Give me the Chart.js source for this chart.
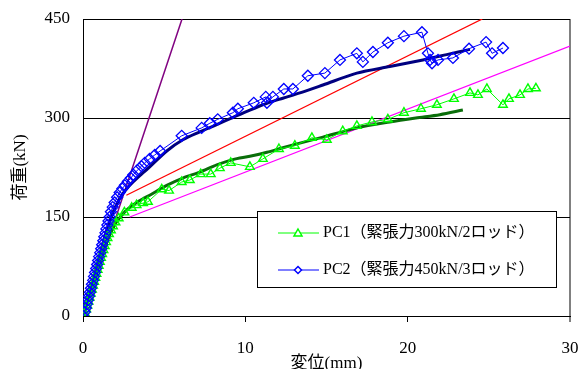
<!DOCTYPE html>
<html>
<head>
<meta charset="utf-8">
<script src="https://cdn.jsdelivr.net/npm/chart.js@4.4.1/dist/chart.umd.min.js"></script>
<style>
  html,body{margin:0;padding:0;background:#fff}
  #wrap{width:579px;height:369px}
</style>
</head>
<body>
<div id="wrap"><canvas id="chart" width="579" height="369"></canvas></div>
<script>
// --- data (displacement mm / load kN) ---
const xTicks = [0, 10, 20, 30];
const yTicks = [0, 150, 300, 450];

// PC1 test (tension 300kN / 2 rods)
const pc1X = [0,0.12,0.2,0.27,0.34,0.41,0.48,0.55,0.62,0.69,0.76,0.83,0.9,0.97,1.04,1.11,1.18,1.26,1.34,1.42,1.51,1.6,1.72,1.85,2.0,2.2,2.55,3.0,3.3,3.7,4.0,4.85,5.3,6.08,6.58,7.25,7.87,8.43,9.1,10.28,11.08,12.07,13.05,14.1,15.02,16.0,16.87,17.8,18.78,19.77,20.82,21.8,22.85,23.84,24.33,24.88,25.87,26.24,26.92,27.41,27.9];
const pc1Y = [0,4,10,16,22,28,34,40,46,52,58,64,70,76,82,88,94,100,106,112,118,124,130,136,142,148,157,164,168,171,173,192,190,203,206,215,215,224,232,226,238,253,258,270,267,280,288,294,298,308,314,320,329,338,335,344,320,329,335,344,345];

// PC2 test (tension 450kN / 3 rods)
const pc2X = [0,0.11,0.18,0.24,0.3,0.37,0.43,0.49,0.55,0.62,0.68,0.74,0.81,0.87,0.93,0.99,1.06,1.12,1.18,1.25,1.31,1.38,1.44,1.5,1.57,1.64,1.72,1.83,1.95,2.1,2.26,2.42,2.58,2.76,2.95,3.1,3.35,3.6,3.8,4.1,4.42,4.75,6.08,7.31,7.81,8.3,9.23,9.54,10.52,11.26,11.33,11.7,12.37,12.93,13.85,14.9,15.83,16.87,17.24,17.86,18.78,19.77,20.88,21.25,21.38,21.5,21.87,22.79,23.78,24.83,25.2,25.87];
const pc2Y = [0,6,12,18,24,30,36,42,48,54,60,66,72,78,84,90,96,102,108,114,120,126,132,138,144,150,158,165,172,180,187,193,198,204,209,214,221,227,232,238,244,250,273,285,292,298,308,314,323,332,323,332,344,344,364,368,388,398,385,400,414,424,430,398,388,383,388,391,405,415,398,406];

// analysis curves
const ana1X = [0,0.5,1.0,1.5,2.0,2.4,2.8,3.3,3.8,4.11,5.16,6.15,7.19,8.24,9.23,10.28,11.33,12.31,13.36,14.78,16.88,18.9,20.5,21.98,23.4];
const ana1Y = [0,38,78,114,140,153,163,172,179,183,198,209,218,229,237,242,248,255,262,271,285,294,300,305,312];
const ana2X = [0,0.5,1.0,1.5,1.9,2.3,2.8,3.3,3.8,4.11,5.16,6.15,7.2,8.24,9.25,10.28,11.3,12.31,13.36,14.78,16.87,18.9,20.94,22.4,23.84];
const ana2Y = [0,45,90,133,160,180,196,208,219,226,250,267,279,290,301,312,322,330,338,350,368,378,388,396,404];

// model lines
const purpleX = [0, 6.1];
const purpleY = [0, 450];
const redX = [2.67, 24.6];
const redY = [183, 450];
const magentaX = [2.88, 30];
const magentaY = [150, 409];

const legendLabels = ['PC1（緊張力300kN/2ロッド）', 'PC2（緊張力450kN/3ロッド）'];

const pts = (xs, ys) => xs.map((x, i) => ({x: x, y: ys[i]}));
const FONT = '"Liberation Serif", "Times New Roman", "Noto Sans CJK JP", serif';

// legend box drawn inside the plot, like the original
const boxLegend = {
  id: 'boxLegend',
  afterDraw(chart) {
    const c = chart.ctx, ca = chart.chartArea;
    const x0 = ca.left + 174, y0 = ca.top + 192, w = 299, h = 76;
    c.save();
    c.fillStyle = '#fff';
    c.fillRect(x0, y0, w, h);
    c.strokeStyle = '#000';
    c.lineWidth = 1;
    c.strokeRect(x0 + 0.5, y0 + 0.5, w, h);
    const rows = [
      {color: '#00ff00', shape: 'tri', y: y0 + 22},
      {color: '#0000ff', shape: 'dia', y: y0 + 59}
    ];
    rows.forEach((r, i) => {
      const lx = x0 + 21, mx = x0 + 41;
      c.strokeStyle = r.color;
      c.lineWidth = 1;
      c.beginPath(); c.moveTo(lx, r.y); c.lineTo(lx + 41, r.y); c.stroke();
      c.fillStyle = '#fff';
      c.lineWidth = 1.5;
      c.beginPath();
      if (r.shape === 'tri') {
        c.moveTo(mx, r.y - 4); c.lineTo(mx + 4, r.y + 3); c.lineTo(mx - 4, r.y + 3); c.closePath();
      } else {
        c.moveTo(mx, r.y - 3.5); c.lineTo(mx + 3.5, r.y); c.lineTo(mx, r.y + 3.5); c.lineTo(mx - 3.5, r.y); c.closePath();
      }
      c.fill(); c.stroke();
      c.fillStyle = '#000';
      c.font = '16px ' + FONT;
      c.textBaseline = 'middle';
      c.textAlign = 'left';
      c.fillText(legendLabels[i], x0 + 66, r.y);
    });
    c.restore();
  }
};

new Chart(document.getElementById('chart'), {
  type: 'scatter',
  data: {
    datasets: [
      {label: 'PC2', data: pts(pc2X, pc2Y), showLine: true, borderColor: '#0000ff', borderWidth: 1,
       pointStyle: 'rectRot', pointRadius: 5.5, pointBorderWidth: 1.3, pointBorderColor: '#0000ff',
       pointBackgroundColor: 'rgba(0,0,0,0)'},
      {label: 'PC1', data: pts(pc1X, pc1Y), showLine: true, borderColor: '#00ff00', borderWidth: 1,
       pointStyle: 'triangle', pointRadius: 5, pointBorderWidth: 1.4, pointBorderColor: '#00ff00',
       pointBackgroundColor: 'rgba(0,0,0,0)'},
      {label: 'ana2', data: pts(ana2X, ana2Y), showLine: true, borderColor: '#000080', borderWidth: 3,
       pointRadius: 0, tension: 0.3},
      {label: 'ana1', data: pts(ana1X, ana1Y), showLine: true, borderColor: '#0a6e0a', borderWidth: 3,
       pointRadius: 0, tension: 0.3},
      {label: 'red', data: pts(redX, redY), showLine: true, borderColor: '#ff0000', borderWidth: 1.3, pointRadius: 0},
      {label: 'magenta', data: pts(magentaX, magentaY), showLine: true, borderColor: '#ff00ff', borderWidth: 1.3, pointRadius: 0},
      {label: 'purple', data: pts(purpleX, purpleY), showLine: true, borderColor: '#800080', borderWidth: 1.5, pointRadius: 0}
    ]
  },
  options: {
    responsive: false,
    animation: false,
    layout: {padding: {left: 0, right: 9, top: 19, bottom: 0}},
    plugins: {legend: {display: false}, tooltip: {enabled: false}},
    scales: {
      x: {
        type: 'linear', min: 0, max: 30,
        afterBuildTicks: s => { s.ticks = xTicks.map(v => ({value: v})); },
        afterFit: s => { s.height = 53; s.paddingLeft = 0; s.paddingRight = 0; },
        grid: {
          color: ctx => ctx.tick && ctx.tick.value === 30 ? '#808080' : 'rgba(0,0,0,0)',
          lineWidth: ctx => ctx.tick && ctx.tick.value === 30 ? 2 : 1,
          tickColor: '#000', tickWidth: 1, tickLength: 6
        },
        border: {display: true, color: '#000', width: 1},
        ticks: {color: '#000', padding: 16, maxRotation: 0, font: {family: FONT, size: 17}},
        title: {display: true, text: '変位(mm)', color: '#000', padding: {top: 0, bottom: -3},
                font: {family: FONT, size: 17, lineHeight: 1}}
      },
      y: {
        min: 0, max: 450,
        afterBuildTicks: s => { s.ticks = yTicks.map(v => ({value: v})); },
        afterFit: s => { s.width = 83; s.paddingTop = 0; s.paddingBottom = 0; },
        grid: {color: '#000', lineWidth: 1, drawTicks: false},
        border: {display: true, color: '#000', width: 1},
        ticks: {color: '#000', padding: 13, font: {family: FONT, size: 17}},
        title: {display: true, text: '荷重(kN)', color: '#000', padding: {top: 10, bottom: 0},
                font: {family: FONT, size: 17}}
      }
    }
  },
  plugins: [boxLegend]
});
</script>
</body>
</html>
